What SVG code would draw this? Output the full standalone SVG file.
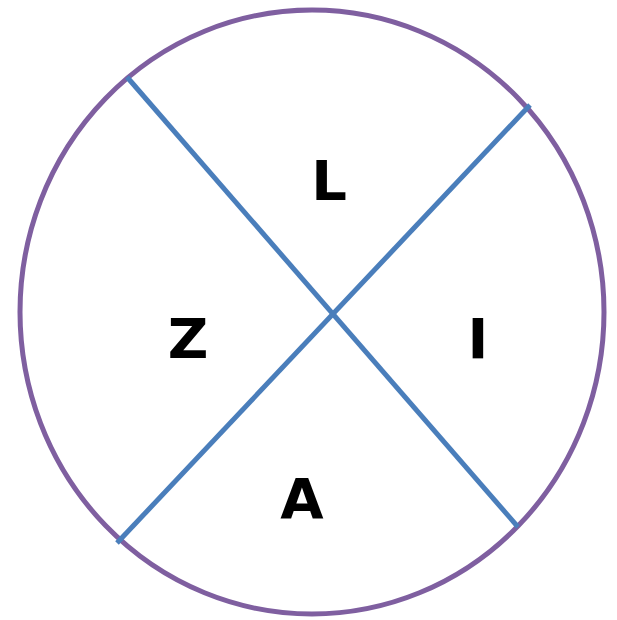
<svg xmlns="http://www.w3.org/2000/svg" width="617" height="620" viewBox="0 0 617 620">
<style>
.lbl{font-family:"DejaVu Sans","Liberation Sans",sans-serif;font-weight:bold;font-size:56px;fill:#000;text-anchor:middle}
.ln{stroke:#4A7EBB;stroke-width:5;fill:none}
</style>
<rect width="617" height="620" fill="#fff"/>
<g id="circle"><ellipse cx="312" cy="312" rx="292" ry="302" fill="none" stroke="#7F5FA0" stroke-width="5"/></g>
<g id="connectors">
<line class="ln" x1="127" y1="77" x2="518" y2="527"/>
<line class="ln" x1="530" y1="105" x2="117" y2="543"/>
</g>
<g id="L"><text class="lbl" x="329" y="200">L</text></g>
<g id="Z"><text class="lbl" x="188" y="358">Z</text></g>
<g id="I"><text class="lbl" x="478" y="358">I</text></g>
<g id="A"><text class="lbl" x="302" y="518">A</text></g>
</svg>
